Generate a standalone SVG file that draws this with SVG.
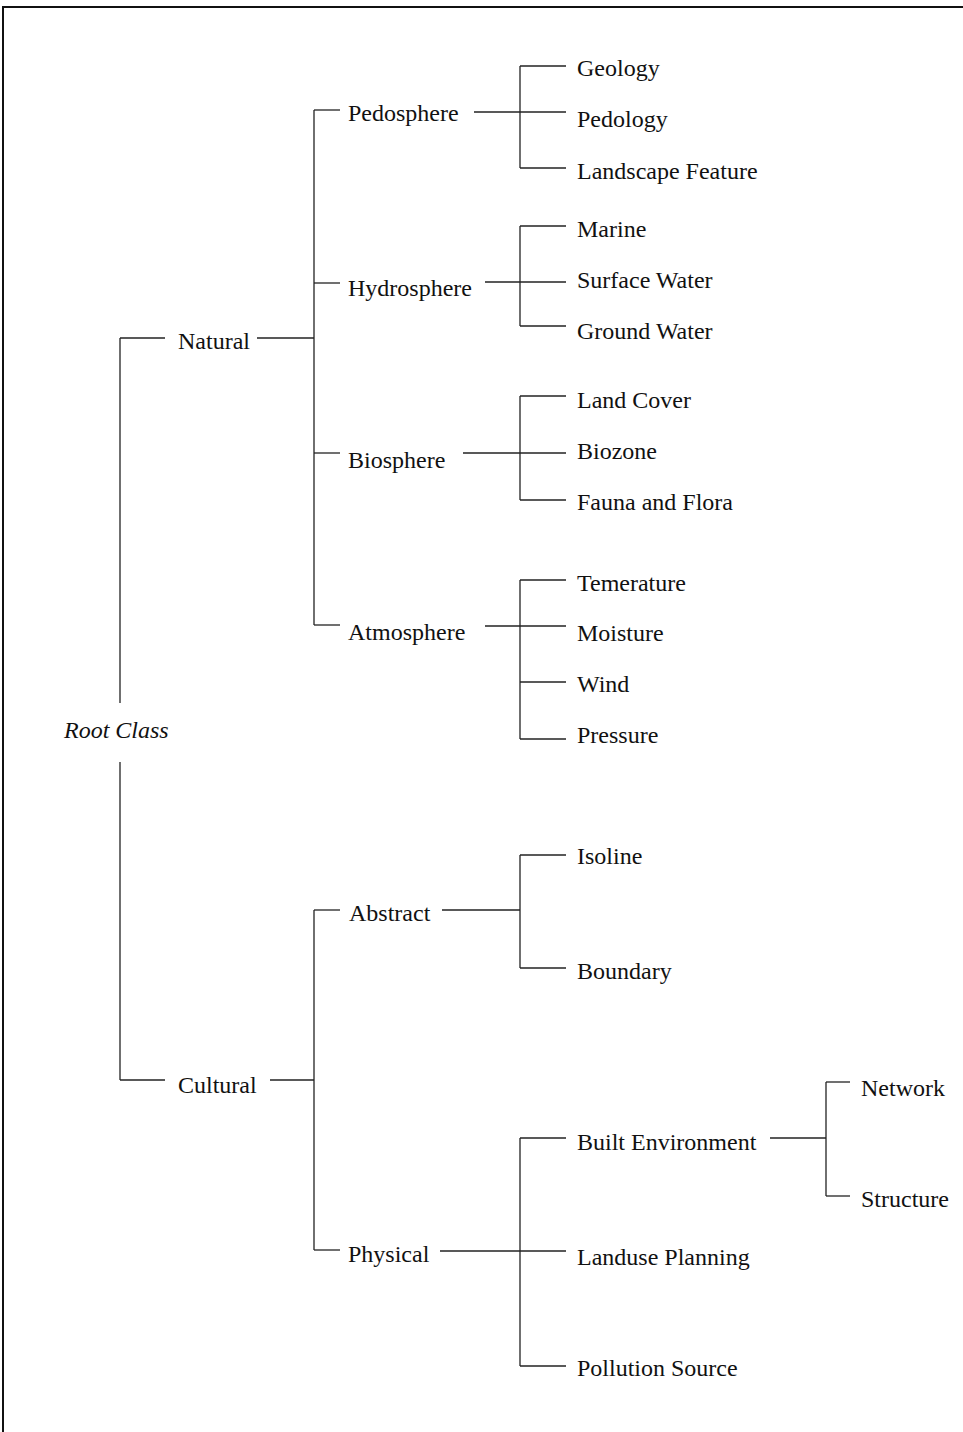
<svg xmlns="http://www.w3.org/2000/svg" width="963" height="1432" viewBox="0 0 963 1432">
<style>
text{font-family:"Liberation Serif","Times New Roman",serif;font-size:24px;fill:#111}
.it{font-style:italic}
.c line{stroke:#222;stroke-width:1.3;fill:none}
.b{stroke:#111;stroke-width:2;fill:none}
</style>
<rect width="963" height="1432" fill="#fff"/>
<path class="b" d="M3,1432 V7 H963"/>
<g class="c" id="connectors">
<line x1="120" y1="338" x2="120" y2="703"/>
<line x1="120" y1="762" x2="120" y2="1080"/>
<line x1="120" y1="338" x2="165" y2="338"/>
<line x1="120" y1="1080" x2="165" y2="1080"/>
<line x1="257" y1="338" x2="314" y2="338"/>
<line x1="314" y1="110" x2="314" y2="625"/>
<line x1="314" y1="110" x2="340" y2="110"/>
<line x1="314" y1="283" x2="340" y2="283"/>
<line x1="314" y1="453" x2="340" y2="453"/>
<line x1="314" y1="625" x2="340" y2="625"/>
<line x1="474" y1="112" x2="566" y2="112"/>
<line x1="520" y1="66" x2="520" y2="168"/>
<line x1="520" y1="66" x2="566" y2="66"/>
<line x1="520" y1="168" x2="566" y2="168"/>
<line x1="485" y1="282" x2="566" y2="282"/>
<line x1="520" y1="226" x2="520" y2="326"/>
<line x1="520" y1="226" x2="566" y2="226"/>
<line x1="520" y1="326" x2="566" y2="326"/>
<line x1="463" y1="453" x2="566" y2="453"/>
<line x1="520" y1="396" x2="520" y2="500"/>
<line x1="520" y1="396" x2="566" y2="396"/>
<line x1="520" y1="500" x2="566" y2="500"/>
<line x1="485" y1="626" x2="566" y2="626"/>
<line x1="520" y1="580" x2="520" y2="739"/>
<line x1="520" y1="580" x2="566" y2="580"/>
<line x1="520" y1="682" x2="566" y2="682"/>
<line x1="520" y1="739" x2="566" y2="739"/>
<line x1="270" y1="1080" x2="314" y2="1080"/>
<line x1="314" y1="910" x2="314" y2="1250"/>
<line x1="314" y1="910" x2="340" y2="910"/>
<line x1="314" y1="1250" x2="340" y2="1250"/>
<line x1="442" y1="910" x2="520" y2="910"/>
<line x1="520" y1="855" x2="520" y2="968"/>
<line x1="520" y1="855" x2="566" y2="855"/>
<line x1="520" y1="968" x2="566" y2="968"/>
<line x1="440" y1="1251" x2="566" y2="1251"/>
<line x1="520" y1="1138" x2="520" y2="1366"/>
<line x1="520" y1="1138" x2="566" y2="1138"/>
<line x1="520" y1="1366" x2="566" y2="1366"/>
<line x1="770" y1="1138" x2="826" y2="1138"/>
<line x1="826" y1="1082" x2="826" y2="1196"/>
<line x1="826" y1="1082" x2="850" y2="1082"/>
<line x1="826" y1="1196" x2="850" y2="1196"/>
</g>
<g id="root"><text class="it" x="64" y="738">Root Class</text></g>
<g id="natural"><text x="178" y="349">Natural</text></g>
<g id="cultural"><text x="178" y="1093">Cultural</text></g>
<g id="pedosphere"><text x="348" y="121">Pedosphere</text></g>
<g id="hydrosphere"><text x="348" y="296">Hydrosphere</text></g>
<g id="biosphere"><text x="348" y="468">Biosphere</text></g>
<g id="atmosphere"><text x="348" y="640">Atmosphere</text></g>
<g id="abstract"><text x="349" y="921">Abstract</text></g>
<g id="physical"><text x="348" y="1262">Physical</text></g>
<g id="geology"><text x="577" y="76">Geology</text></g>
<g id="pedology"><text x="577" y="127">Pedology</text></g>
<g id="landscape"><text x="577" y="179">Landscape Feature</text></g>
<g id="marine"><text x="577" y="237">Marine</text></g>
<g id="surface"><text x="577" y="288">Surface Water</text></g>
<g id="ground"><text x="577" y="339">Ground Water</text></g>
<g id="landcover"><text x="577" y="408">Land Cover</text></g>
<g id="biozone"><text x="577" y="459">Biozone</text></g>
<g id="fauna"><text x="577" y="510">Fauna and Flora</text></g>
<g id="temerature"><text x="577" y="591">Temerature</text></g>
<g id="moisture"><text x="577" y="641">Moisture</text></g>
<g id="wind"><text x="577" y="692">Wind</text></g>
<g id="pressure"><text x="577" y="743">Pressure</text></g>
<g id="isoline"><text x="577" y="864">Isoline</text></g>
<g id="boundary"><text x="577" y="979">Boundary</text></g>
<g id="built"><text x="577" y="1150">Built Environment</text></g>
<g id="landuse"><text x="577" y="1265">Landuse Planning</text></g>
<g id="pollution"><text x="577" y="1376">Pollution Source</text></g>
<g id="network"><text x="861" y="1096">Network</text></g>
<g id="structure"><text x="861" y="1207">Structure</text></g>
</svg>
